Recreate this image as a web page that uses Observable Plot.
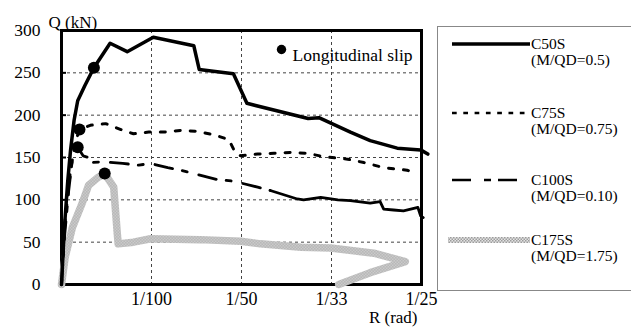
<!DOCTYPE html>
<html><head><meta charset="utf-8">
<script src="https://cdn.jsdelivr.net/npm/d3@7"></script>
<script src="https://cdn.jsdelivr.net/npm/@observablehq/plot@0.6"></script>
<style>body{margin:0;background:#fff}#chart{width:631px;height:334px;overflow:hidden}</style>
</head><body><div id="chart"></div>
<script>
// ---- data (R in rad, Q in kN) ----
const c50R = [0, 0.0003, 0.0007, 0.001, 0.0014, 0.0018, 0.0026, 0.0036, 0.0054, 0.0073, 0.0102, 0.0147, 0.0153, 0.0191, 0.0206, 0.0274, 0.0286, 0.0321, 0.0343, 0.0373, 0.0399, 0.0407];
const c50Q = [0, 64, 123, 158, 194, 217, 235, 256, 285, 275, 292, 282, 254, 249, 214, 196, 197, 180, 170, 161, 159, 154];

const c75R = [0, 0.0004, 0.001, 0.0016, 0.002, 0.0032, 0.0049, 0.0066, 0.008, 0.0097, 0.0113, 0.0132, 0.0149, 0.0169, 0.0186, 0.0193, 0.0199, 0.0218, 0.0236, 0.0254, 0.0273, 0.0291, 0.0318, 0.0336, 0.0358, 0.0384, 0.0396];
const c75Q = [0, 76, 135, 170, 183, 188, 190, 183, 178, 180, 180, 182, 181, 177, 171, 156, 152, 154, 155, 156, 155, 151, 148, 144, 138, 135, 131];

const c100R = [0, 0.0003, 0.0008, 0.0012, 0.0018, 0.0024, 0.003, 0.0032, 0.0046, 0.0068, 0.0086, 0.0099, 0.0118, 0.0132, 0.0158, 0.0173, 0.0191, 0.0218, 0.0232, 0.0247, 0.0262, 0.0269, 0.0288, 0.0307, 0.0321, 0.0343, 0.0354, 0.0358, 0.0369, 0.038, 0.0396, 0.0399, 0.0402];
const c100Q = [0, 52, 111, 147, 162, 152, 150, 144, 145, 143, 141, 143, 138, 135, 128, 124, 122, 115, 111, 106, 101, 100, 103, 100, 99, 96, 98, 89, 88, 87, 91, 81, 79];

const c175R = [0, 0.0004, 0.0012, 0.0023, 0.003, 0.004, 0.0048, 0.0058, 0.0062, 0.0063, 0.008, 0.0099, 0.0154, 0.0199, 0.0221, 0.0266, 0.0299, 0.0347, 0.0382, 0.0343, 0.0308];
const c175Q = [0, 32, 67, 96, 117, 126, 131, 115, 60, 48, 50, 54, 53, 51, 48, 44, 43, 37, 27, 14, 0];

const slipR = [0.0036, 0.002, 0.0018, 0.0048];
const slipQ = [256, 183, 162, 131];

const yTicks = [0, 50, 100, 150, 200, 250, 300];
const xTicks = [0.01, 0.02, 0.03, 0.04];
const xTickLabels = ["1/100", "1/50", "1/33", "1/25"];

const seriesNames = ["C50S", "C75S", "C100S", "C175S"];
const seriesNotes = ["(M/QD=0.5)", "(M/QD=0.75)", "(M/QD=0.10)", "(M/QD=1.75)"];
const slipLabel = "Longitudinal slip";
const yTitle = "Q (kN)";
const xTitle = "R (rad)";

// ---- build ----
const rows = (R, Q) => R.map((r, i) => ({R: r, Q: Q[i]}));
const c50 = rows(c50R, c50Q), c75 = rows(c75R, c75Q), c100 = rows(c100R, c100Q), c175 = rows(c175R, c175Q);
const slips = rows(slipR, slipQ);

const FONT = "'Liberation Serif', 'Times New Roman', serif";
const styles = [
  {stroke: "black", strokeWidth: 3.5},
  {stroke: "black", strokeWidth: 3, strokeDasharray: "5,10"},
  {stroke: "black", strokeWidth: 2.8, strokeDasharray: "18,10,5,12"},
  {stroke: "url(#checker)", strokeWidth: 7.5}
];
const legendStyles = [
  {stroke: "black", strokeWidth: 3.5},
  {stroke: "black", strokeWidth: 2.5, strokeDasharray: "4.7,6.6"},
  {stroke: "black", strokeWidth: 2.5, strokeDasharray: "19,13,7,7"},
  {stroke: "url(#checker)", strokeWidth: 6}
];
const grid = {stroke: "#444", strokeOpacity: 1, strokeDasharray: "3,3", strokeWidth: 1};

const plot = Plot.plot({
  width: 631, height: 334,
  marginLeft: 61, marginRight: 210, marginTop: 30, marginBottom: 50,
  style: {fontFamily: FONT, fontSize: "17px", background: "white", color: "black", overflow: "hidden"},
  x: {domain: [0, 0.04]},
  y: {domain: [0, 300]},
  marks: [
    Plot.gridX(xTicks.slice(0, -1), grid),
    Plot.gridY(yTicks.slice(1, -1), grid),
    Plot.axisY(yTicks, {tickSize: 0, tickPadding: 21, fontSize: 17.5, label: null}),
    Plot.axisX(xTicks, {tickSize: 0, tickPadding: 8, fontSize: 18, label: null,
      tickFormat: d => xTickLabels[xTicks.indexOf(d)]}),
    Plot.frame({stroke: "black", strokeWidth: 3}),
    Plot.tickY(yTicks, {y: d => d, insetRight: 355, strokeWidth: 2, stroke: "black"}),
    Plot.line(c175, {x: "R", y: "Q", ...styles[3]}),
    Plot.line(c100, {x: "R", y: "Q", filter: d => d.R <= 0.0232, ...styles[2]}),
    Plot.line(c100, {x: "R", y: "Q", filter: d => d.R >= 0.0232, stroke: "black", strokeWidth: 2.8}),
    Plot.line(c75, {x: "R", y: "Q", ...styles[1]}),
    Plot.line(c50, {x: "R", y: "Q", ...styles[0]}),
    Plot.dot(slips, {x: "R", y: "Q", r: 6, fill: "black", stroke: null}),
    Plot.dot([slipLabel], {frameAnchor: "top-right", dx: -140, dy: 19, r: 4.7, fill: "black", stroke: null}),
    Plot.text([slipLabel], {frameAnchor: "top-right", dx: -129, dy: 18, textAnchor: "start", fontSize: 17.5}),
    Plot.text([yTitle], {frameAnchor: "top-left", dx: -13, dy: -15, textAnchor: "start", fontSize: 17}),
    Plot.text([xTitle], {frameAnchor: "bottom-right", dx: -4, dy: 38, textAnchor: "end", fontSize: 17})
  ]
});

// pattern for the grey textured series
const svg = d3.select(plot);
const defs = svg.insert("defs", ":first-child");
const pat = defs.append("pattern").attr("id", "checker").attr("patternUnits", "userSpaceOnUse")
  .attr("width", 3).attr("height", 3);
pat.append("rect").attr("width", 3).attr("height", 3).attr("fill", "#e4e4e4");
pat.append("rect").attr("width", 1.5).attr("height", 1.5).attr("fill", "#9c9c9c");
pat.append("rect").attr("x", 1.5).attr("y", 1.5).attr("width", 1.5).attr("height", 1.5).attr("fill", "#9c9c9c");

// legend box
const lg = svg.append("g");
lg.append("rect").attr("x", 437.5).attr("y", 26.5).attr("width", 260).attr("height", 264)
  .attr("fill", "white").attr("stroke", "#888").attr("stroke-width", 1);
const legendY = [44, 113, 180, 240];
seriesNames.forEach((name, i) => {
  const y = legendY[i];
  const s = legendStyles[i];
  lg.append("line").attr("x1", i === 3 ? 448 : 452).attr("x2", 530).attr("y1", y).attr("y2", y)
    .attr("stroke", s.stroke).attr("stroke-width", s.strokeWidth)
    .attr("stroke-dasharray", s.strokeDasharray || null);
  [[name, y + 5], [seriesNotes[i], y + 21]].forEach(([t, ty]) => {
    lg.append("text").attr("x", 531).attr("y", ty).text(t)
      .style("font-family", FONT).style("font-size", "15.5px")
      .style("text-anchor", "start").style("fill", "black");
  });
});

document.getElementById("chart").appendChild(plot);
</script>
</body></html>
